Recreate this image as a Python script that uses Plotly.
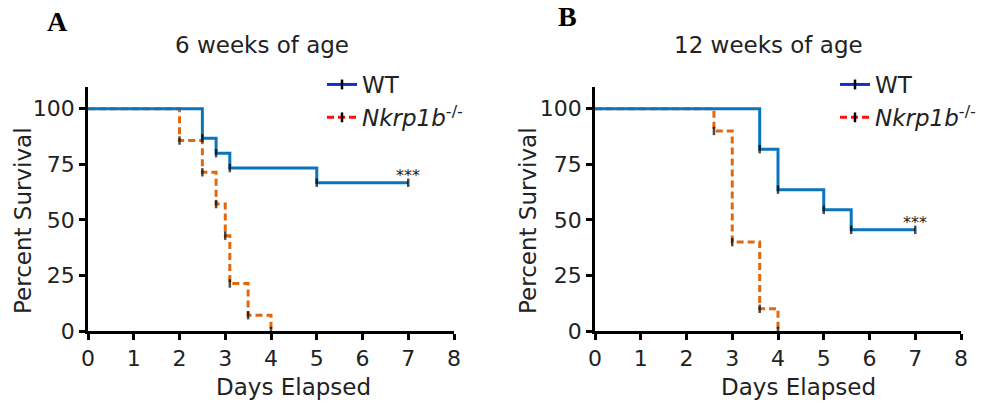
import plotly.graph_objects as go

# ---------------- data ----------------
# Panel A: 6 weeks of age
a_wt_days = [0, 2.5, 2.8, 3.1, 5.0, 7.0]
a_wt_surv = [100, 86.7, 80.0, 73.3, 66.7, 66.7]
a_ko_days = [0, 2.0, 2.5, 2.8, 3.0, 3.1, 3.5, 4.0]
a_ko_surv = [100, 85.7, 71.4, 57.1, 42.9, 21.4, 7.1, 0]

# Panel B: 12 weeks of age
b_wt_days = [0, 3.6, 4.0, 5.0, 5.6, 7.0]
b_wt_surv = [100, 81.8, 63.6, 54.5, 45.5, 45.5]
b_ko_days = [0, 2.6, 3.0, 3.6, 4.0]
b_ko_surv = [100, 90, 40, 10, 0]

x_ticks = [0, 1, 2, 3, 4, 5, 6, 7, 8]
y_ticks = [0, 25, 50, 75, 100]
panel_titles = ["6 weeks of age", "12 weeks of age"]
panel_letters = ["A", "B"]
legend_names = ["WT", "<i>Nkrp1b</i><sup>-/-</sup>"]
sig_label = "***"

WT_COLOR = "#0A74BC"
KO_COLOR = "#E0690F"
WT_LEG = "#1432C0"
KO_LEG = "#FF1010"
FONT = "DejaVu Sans, Arial, sans-serif"
TXT = "#222222"

fig = go.Figure()

def add_panel(xa, ya, legend, wt_x, wt_y, ko_x, ko_y):
    sizes_ko = [0] + [6] * (len(ko_x) - 1)
    sizes_wt = [0] + [6] * (len(wt_x) - 1)
    fig.add_trace(go.Scatter(
        x=ko_x, y=ko_y, mode="lines+markers", line=dict(shape="hv", color=KO_COLOR, width=3, dash="7px,4px"),
        marker=dict(symbol="line-ns", size=sizes_ko, line=dict(color="black", width=2.5)),
        xaxis=xa, yaxis=ya, showlegend=False, hoverinfo="x+y"))
    fig.add_trace(go.Scatter(
        x=wt_x, y=wt_y, mode="lines+markers", line=dict(shape="hv", color=WT_COLOR, width=3),
        marker=dict(symbol="line-ns", size=sizes_wt, line=dict(color="black", width=2.5)),
        xaxis=xa, yaxis=ya, showlegend=False, hoverinfo="x+y"))
    # legend entries
    fig.add_trace(go.Scatter(
        x=[None], y=[None], mode="lines+markers", name=legend_names[0],
        line=dict(color=WT_LEG, width=3),
        marker=dict(symbol="line-ns", size=7, line=dict(color="black", width=2.5)),
        xaxis=xa, yaxis=ya, legend=legend))
    fig.add_trace(go.Scatter(
        x=[None], y=[None], mode="lines+markers", name=legend_names[1],
        line=dict(color=KO_LEG, width=3, dash="7px,4px"),
        marker=dict(symbol="line-ns", size=7, line=dict(color="black", width=2.5)),
        xaxis=xa, yaxis=ya, legend=legend))

add_panel("x", "y", "legend", a_wt_days, a_wt_surv, a_ko_days, a_ko_surv)
add_panel("x2", "y2", "legend2", b_wt_days, b_wt_surv, b_ko_days, b_ko_surv)

axis_common = dict(
    showgrid=False, zeroline=False, showline=True, linecolor="black", linewidth=2.5,
    ticks="outside", ticklen=6, tickwidth=2.5, tickcolor="black", automargin=False,
    tickfont=dict(family=FONT, size=22, color=TXT), fixedrange=True,
)
ydom = [1 - 331 / 402, 1 - 86.5 / 402]
fig.update_layout(
    width=981, height=402, margin=dict(l=0, r=0, t=0, b=0, autoexpand=False),
    paper_bgcolor="white", plot_bgcolor="white",
    xaxis=dict(domain=[88 / 981, 454 / 981], range=[0, 8], tickvals=x_ticks, anchor="y", **axis_common),
    yaxis=dict(domain=ydom, range=[0, 110], tickvals=y_ticks, anchor="x", **axis_common),
    xaxis2=dict(domain=[595 / 981, 961 / 981], range=[0, 8], tickvals=x_ticks, anchor="y2", **axis_common),
    yaxis2=dict(domain=ydom, range=[0, 110], tickvals=y_ticks, anchor="x2", **axis_common),
    legend=dict(x=322 / 981, y=1 - 63 / 402, xanchor="left", yanchor="top", bgcolor="rgba(0,0,0,0)",
                font=dict(family=FONT, size=23, color=TXT), tracegroupgap=0, itemwidth=30),
    legend2=dict(x=835 / 981, y=1 - 63 / 402, xanchor="left", yanchor="top", bgcolor="rgba(0,0,0,0)",
                 font=dict(family=FONT, size=23, color=TXT), tracegroupgap=0, itemwidth=30),
    showlegend=True,
)

ann = []
# titles
for xc, t in zip([262, 768], panel_titles):
    ann.append(dict(x=xc / 981, y=1 - 45 / 402, xref="paper", yref="paper", text=t, showarrow=False,
                    font=dict(family=FONT, size=23, color=TXT), xanchor="center", yanchor="middle"))
# panel letters
for (xc, yc), t in zip([(57, 22), (567, 17)], panel_letters):
    ann.append(dict(x=xc / 981, y=1 - yc / 402, xref="paper", yref="paper", text="<b>" + t + "</b>",
                    showarrow=False, font=dict(family="Liberation Serif, Times New Roman, serif", size=28, color="black"),
                    xanchor="center", yanchor="middle"))
# axis titles
for xc in [293, 798]:
    ann.append(dict(x=xc / 981, y=1 - 387 / 402, xref="paper", yref="paper", text="Days Elapsed", showarrow=False,
                    font=dict(family=FONT, size=23, color=TXT), xanchor="center", yanchor="middle"))
for xc in [23, 528]:
    ann.append(dict(x=xc / 981, y=1 - 221 / 402, xref="paper", yref="paper", text="Percent Survival",
                    showarrow=False, textangle=-90,
                    font=dict(family=FONT, size=23, color=TXT), xanchor="center", yanchor="middle"))
# significance
ann.append(dict(x=a_wt_days[-1], y=a_wt_surv[-1], xref="x", yref="y", text=sig_label, showarrow=False,
                font=dict(family=FONT, size=16, color=TXT), xanchor="center", yanchor="bottom", yshift=-4))
ann.append(dict(x=b_wt_days[-1], y=b_wt_surv[-1], xref="x2", yref="y2", text=sig_label, showarrow=False,
                font=dict(family=FONT, size=16, color=TXT), xanchor="center", yanchor="bottom", yshift=-4))
fig.update_layout(annotations=ann)

fig.write_html("out.html")
